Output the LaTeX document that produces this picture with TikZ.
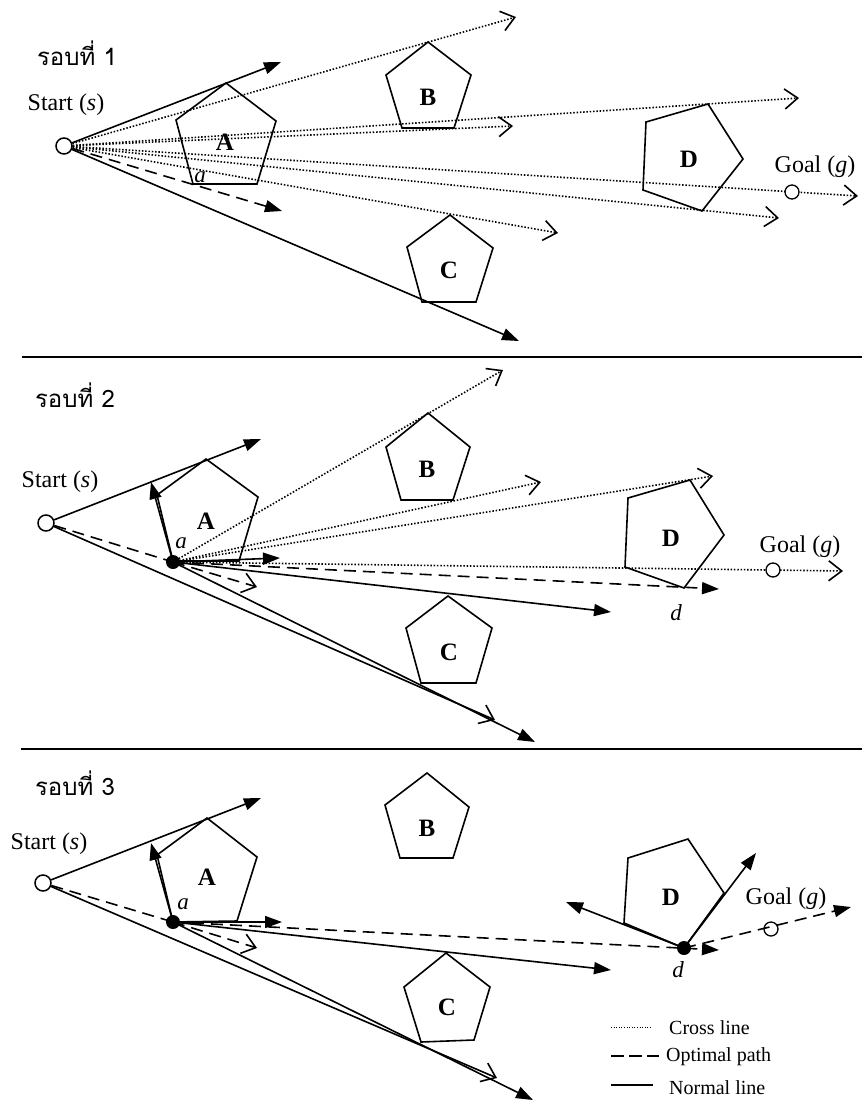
\documentclass[tikz,border=0pt]{standalone}
\usepackage{fontspec}
\setmainfont{Liberation Serif}
\newfontfamily\thaifont[Script=Thai]{Loma}
\usetikzlibrary{arrows.meta}
\tikzset{
  normal/.style={line width=1.6pt},
  cross/.style={line width=1.6pt, dash pattern=on 1.5pt off 1.8pt},
  optimal/.style={line width=1.6pt, dash pattern=on 12pt off 7pt},
  fhead/.style={-{Triangle[length=17pt,width=12pt]}},
  ohead/.style={-{Straight Barb[length=13pt,width=20pt]}},
  obst/.style={line width=1.6pt, line join=miter},
  sep/.style={line width=2pt},
  startnode/.style={circle, draw, line width=1.5pt, fill=white, minimum size=16pt, inner sep=0pt},
  goalnode/.style={circle, draw, line width=1.3pt, fill=white, minimum size=14pt, inner sep=0pt},
  goalopen/.style={circle, draw, line width=1.3pt, minimum size=14pt, inner sep=0pt},
  dotnode/.style={circle, fill=black, minimum size=14pt, inner sep=0pt},
  lbl/.style={font=\fontsize{24}{28}\selectfont, inner sep=0pt},
  obl/.style={font=\bfseries\fontsize{25}{28}\selectfont, inner sep=0pt},
  ptl/.style={font=\itshape\fontsize{23}{26}\selectfont, inner sep=0pt},
  thai/.style={font=\thaifont\fontsize{24}{28}\selectfont, inner sep=0pt},
  leg/.style={font=\fontsize{20}{24}\selectfont, anchor=west, inner sep=0pt},
}
\begin{document}
\begin{tikzpicture}[x=1pt,y=-1pt]
\useasboundingbox (0,0) rectangle (862,1103);

% ================= Panel 1 =================
\node[thai] (r1) at (77,53) {รอบที่ 1};
\node[lbl] (st1) at (66,105) {Start (\textit{s})};
\node[startnode] (S1) at (64,146) {};
\coordinate (g1) at (792,192);
% obstacles
\draw[obst] (226,83) -- (276,121) -- (257,184) -- (193,184) -- (176,120) -- cycle;
\draw[obst] (428,42) -- (471,75) -- (454,128) -- (402,128) -- (386,75) -- cycle;
\draw[obst] (450,215) -- (493,248) -- (476,302) -- (422,302) -- (407,247) -- cycle;
\draw[obst] (708,104) -- (743,159) -- (702,211) -- (643,190) -- (646,122) -- cycle;
\node[obl] (A1) at (225,142) {A};
\node[obl] (B1) at (428,97) {B};
\node[obl] (C1) at (449,270) {C};
\node[obl] (D1) at (689,159) {D};
\node[ptl] (al1) at (200,177) {a};
% end points
\coordinate (p1n1) at (281,62);
\coordinate (p1n2) at (519,341);
\coordinate (p1o) at (282,211);
\coordinate (p1c1) at (516,17);
\coordinate (p1c2) at (799,98);
\coordinate (p1c3) at (513,126);
\coordinate (p1c4) at (858,196);
\coordinate (p1c5) at (779,218);
\coordinate (p1c6) at (558,233);
\draw[cross,ohead] (S1) -- (p1c1);
\draw[cross,ohead] (S1) -- (p1c2);
\draw[cross,ohead] (S1) -- (p1c3);
\draw[cross,ohead] (S1) -- (p1c4);
\draw[cross,ohead] (S1) -- (p1c5);
\draw[cross,ohead] (S1) -- (p1c6);
\draw[normal,fhead] (S1) -- (p1n1);
\draw[normal,fhead] (S1) -- (p1n2);
\draw[optimal,fhead] (S1) -- (p1o);
\node[goalnode] (G1) at (g1) {};
\node[lbl] (gl1) at (815,167) {Goal (\textit{g})};

\draw[sep] (22,357) -- (862,357);

% ================= Panel 2 =================
\node[thai] (r2) at (75,395) {รอบที่ 2};
\node[lbl] (st2) at (60,482) {Start (\textit{s})};
\node[startnode] (S2) at (46,523) {};
\coordinate (a2) at (173,562);
\coordinate (g2) at (773,570);
\draw[obst] (206,459) -- (258,497) -- (239,561) -- (173,561) -- (157,495) -- cycle;
\draw[obst] (428,413) -- (470,447) -- (453,500) -- (401,500) -- (386,447) -- cycle;
\draw[obst] (448,596) -- (492,628) -- (476,683) -- (421,683) -- (406,628) -- cycle;
\draw[obst] (690,480) -- (724,535) -- (684,588) -- (625,567) -- (628,498) -- cycle;
\node[obl] (A2) at (206,521) {A};
\node[obl] (B2) at (427,469) {B};
\node[obl] (C2) at (449,652) {C};
\node[obl] (D2) at (671,538) {D};
\node[ptl] (al2) at (181,543) {a};
\node[ptl] (dl2) at (676,613) {d};
\coordinate (p2n1) at (261,439);
\coordinate (p2n2) at (151,482);
\coordinate (p2n3) at (495,720);
\coordinate (p2n4) at (535,742);
\coordinate (p2z) at (257,587);
\coordinate (p2n5) at (280,558);
\coordinate (p2n6) at (611,612);
\coordinate (p2o) at (719,589);
\coordinate (p2c1) at (503,370);
\coordinate (p2c2) at (541,482);
\coordinate (p2c3) at (713,476);
\coordinate (p2c4) at (843,571);
\draw[cross,ohead] (a2) -- (p2c1);
\draw[cross,ohead] (a2) -- (p2c2);
\draw[cross,ohead] (a2) -- (p2c3);
\draw[cross,ohead] (a2) -- (p2c4);
\draw[normal,fhead] (S2) -- (p2n1);
\draw[normal,fhead] (a2) -- (p2n2);
\draw[optimal] (S2) -- (a2);
\draw[normal,ohead] (S2) -- (p2n3);
\draw[normal,fhead] (a2) -- (p2n4);
\draw[optimal,ohead] (a2) -- (p2z);
\draw[normal,fhead] (a2) -- (p2n5);
\draw[normal,fhead] (a2) -- (p2n6);
\draw[optimal,fhead] (a2) -- (p2o);
\node[dotnode] (a2dot) at (a2) {};
\node[goalnode] (G2) at (g2) {};
\node[lbl] (gl2) at (800,547) {Goal (\textit{g})};

\draw[sep] (21,749) -- (862,749);

% ================= Panel 3 =================
\node[thai] (r3) at (75,783) {รอบที่ 3};
\node[lbl] (st3) at (49,844) {Start (\textit{s})};
\node[startnode] (S3) at (43,883) {};
\coordinate (a3) at (173,922);
\coordinate (d3) at (684,948);
\draw[obst] (207,818) -- (257,857) -- (237,921) -- (173,922) -- (157,855) -- cycle;
\draw[obst] (427,773) -- (469,807) -- (453,858) -- (400,858) -- (385,805) -- cycle;
\draw[obst] (446,953) -- (490,987) -- (474,1040) -- (421,1042) -- (404,987) -- cycle;
\draw[obst] (688,839) -- (724,893) -- (684,948) -- (624,923) -- (628,858) -- cycle;
\node[obl] (A3) at (207,877) {A};
\node[obl] (B3) at (427,828) {B};
\node[obl] (C3) at (447,1007) {C};
\node[obl] (D3) at (671,897) {D};
\node[ptl] (al3) at (183,904) {a};
\node[ptl] (dl3) at (678,970) {d};
\coordinate (p3n1) at (261,798);
\coordinate (p3n2) at (151,843);
\coordinate (p3n3) at (497,1078);
\coordinate (p3n4) at (533,1100);
\coordinate (p3z) at (257,948);
\coordinate (p3n5) at (282,922);
\coordinate (p3n6) at (611,970);
\coordinate (p3o1) at (719,950);
\coordinate (p3o2) at (851,907);
\coordinate (p3d1) at (756,853);
\coordinate (p3d2) at (566,902);
\draw[normal,fhead] (S3) -- (p3n1);
\draw[normal,fhead] (a3) -- (p3n2);
\draw[optimal] (S3) -- (a3);
\draw[normal,ohead] (S3) -- (p3n3);
\draw[normal,fhead] (a3) -- (p3n4);
\draw[optimal,ohead] (a3) -- (p3z);
\draw[normal,fhead] (a3) -- (p3n5);
\draw[normal,fhead] (a3) -- (p3n6);
\draw[optimal,fhead] (a3) -- (p3o1);
\draw[optimal,fhead] (d3) -- (p3o2);
\draw[normal,fhead] (d3) -- (p3d1);
\draw[normal,fhead] (d3) -- (p3d2);
\node[dotnode] (a3dot) at (a3) {};
\node[dotnode] (d3dot) at (d3) {};
\node[goalopen] (G3) at (771,929) {};
\node[lbl] (gl3) at (786,899) {Goal (\textit{g})};

% legend
\coordinate (l1a) at (611,1027); \coordinate (l1b) at (652,1027);
\coordinate (l2a) at (611,1056); \coordinate (l2b) at (659,1056);
\coordinate (l3a) at (611,1085); \coordinate (l3b) at (653,1085);
\draw[line width=1pt, dash pattern=on 1pt off 1.6pt] (l1a) -- (l1b);
\draw[line width=1.5pt, dash pattern=on 13pt off 5pt] (l2a) -- (l2b);
\draw[line width=1.5pt] (l3a) -- (l3b);
\node[leg] (lt1) at (669,1028) {Cross line};
\node[leg] (lt2) at (666,1057) {Optimal path};
\node[leg] (lt3) at (669,1088) {Normal line};
\end{tikzpicture}
\end{document}
